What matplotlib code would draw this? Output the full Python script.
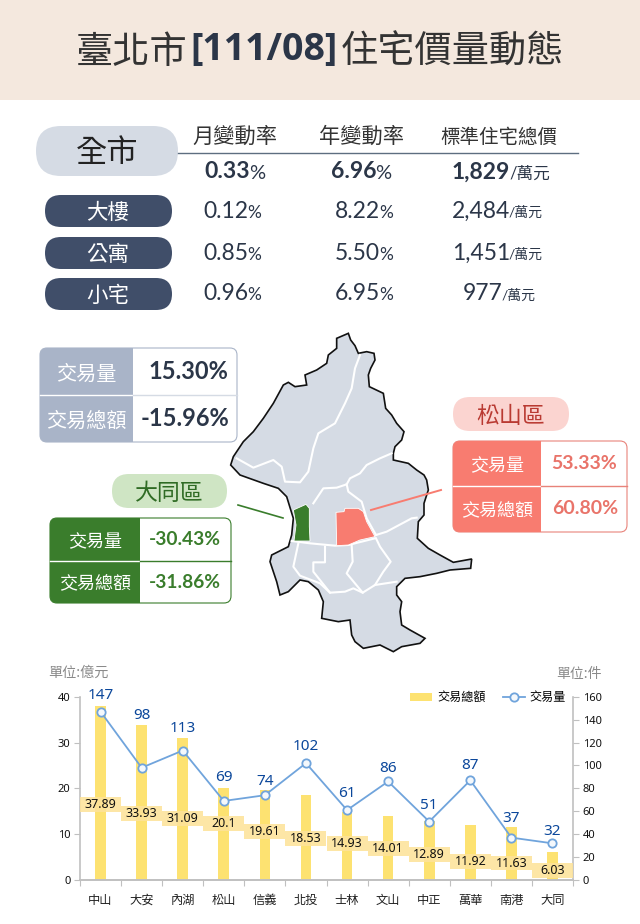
import matplotlib
matplotlib.use("Agg")
import matplotlib.pyplot as plt
from matplotlib.patches import FancyBboxPatch, Polygon, Rectangle

CJK = ['Lato', 'Noto Sans CJK TC', 'DejaVu Sans']
CHART = ['Noto Sans', 'DejaVu Sans']
plt.rcParams['font.family'] = CJK

# Table at the top
col_heads = ["月變動率", "年變動率", "標準住宅總價"]
row_names = ["大樓", "公寓", "小宅"]
city_vals = ["0.33", "6.96", "1,829"]
row_month = ["0.12", "0.85", "0.96"]
row_year = ["8.22", "5.50", "6.95"]
row_price = ["2,484", "1,451", "977"]

# Bottom chart
districts = ["中山", "大安", "內湖", "松山", "信義", "北投", "士林", "文山", "中正", "萬華", "南港", "大同"]
amount = [37.89, 33.93, 31.09, 20.1, 19.61, 18.53, 14.93, 14.01, 12.89, 11.92, 11.63, 6.03]
volume = [147, 98, 113, 69, 74, 102, 61, 86, 51, 87, 37, 32]
# where the amount labels sit on the left axis
label_y = [16.4, 14.6, 13.5, 12.4, 10.5, 9.0, 7.9, 6.8, 5.5, 4.1, 3.7, 2.0]
# gap in pixels between a point and its volume label
volume_gap = [16, 52, 22, 23, 14, 17, 17, 13, 16, 15, 19, 12]

# Map traced in zoom pixels of the reference, see to_px
outline = [(385,25),(392,45),(405,62),(415,85),(440,80),(462,85),(465,105),(452,130),(445,150),(448,185),(490,205),
           (497,250),(515,270),(530,295),(552,320),(545,345),(525,365),(520,385),(520,405),(565,415),(590,435),
           (612,450),(620,465),(625,495),(612,535),(612,570),(595,590),(592,640),(625,670),(660,690),(700,712),
           (755,702),(752,730),(690,735),(650,745),(600,755),(555,760),(530,785),(530,810),(545,830),(540,860),
           (545,900),(570,915),(615,940),(600,955),(545,965),(520,980),(480,960),(430,970),(405,950),(395,930),
           (390,885),(355,890),(305,880),(310,830),(295,795),(265,770),(240,765),(205,800),(180,810),(170,770),
           (150,710),(155,690),(205,665),(215,630),(220,580),(200,515),(175,490),(130,475),(60,450),(32,420),
           (40,395),(70,350),(100,320),(130,280),(160,235),(190,180),(205,172),(225,185),(260,180),(255,150),
           (290,135),(320,115),(325,90),(350,70),(350,40)]
borders = [
    [(50,400),(100,428),(160,405),(185,425),(195,470),(240,472),(265,440),(280,370),(295,325),(345,295),
     (375,235),(395,190),(405,130),(420,90)],
    [(280,535),(310,490),(350,488),(380,478),(390,460),(420,445),(440,420),(480,400),(515,385)],
    [(380,478),(385,500),(425,530),(440,580),(468,630)],
    [(468,630),(500,620),(575,580),(590,578)],
    [(215,648),(270,655),(345,662),(385,660),(465,640)],
    [(468,640),(480,665),(512,710),(490,740),(465,780),(428,803),(380,745),(398,710),(395,660)],
    [(235,655),(220,725),(240,752),(300,775),(330,803),(375,800),(400,790),(428,803)],
    [(315,665),(315,712),(280,712),(280,740),(330,803)],
    [(465,780),(530,770)],
]
datong = [(220,555),(258,538),(268,550),(268,605),(270,648),(222,648),(228,600)]
songshan = [(348,562),(372,560),(375,550),(415,550),(430,560),(440,590),(465,635),(420,645),(385,660),(350,662)]

DARK = "#404e69"
INK = "#2b3648"
GREEN = "#3a7d2c"
SALMON = "#f87c70"
GREY = "#a9b4c8"


def to_px(pts):
    return [(220 + x / 3, 325 + y / 3) for x, y in pts]


def pill(ax, x, y, w, h, r, fc, ec="none", lw=0, z=2):
    p = FancyBboxPatch((x + r, y + r), w - 2 * r, h - 2 * r, boxstyle="round,pad=%f,rounding_size=%f" % (r, r),
                       fc=fc, ec=ec, lw=lw, zorder=z)
    ax.add_patch(p)


def value_text(ax, x, y, val, unit, size, bold=False, unit_size=None, color=INK):
    # number + small unit, the number ends at x
    w = "bold" if bold else "normal"
    ax.text(x, y, val, ha="right", va="center", fontsize=size, color=color, fontweight=w)
    ax.text(x - 1, y + 1.5, unit, ha="left", va="center", fontsize=unit_size, color=color)


def panel(ax, x, y, w, h, split, mid, ec, head_color, labels, vals, val_color, label_size, val_size, div, val_dx):
    # two row box: coloured label column + white value column
    pill(ax, x, y, w, h, 7, "white", ec, 0.8, z=2)
    pill(ax, x, y, split - x, h, 7, head_color, "none", 0, z=3)
    ax.add_patch(Rectangle((split - 10, y), 10, h, fc=head_color, ec="none", zorder=3))
    ax.plot([x, split], [mid, mid], color="#ffffff", lw=1, zorder=4)
    ax.plot([split, x + w], [mid, mid], color=div, lw=1, zorder=4)
    cy = [(y + mid) / 2, (mid + y + h) / 2]
    for i in range(2):
        ax.text((x + split) / 2, cy[i] + 2, labels[i], ha="center", va="center", color="white", fontsize=label_size,
                zorder=5)
        ax.text((split + x + w) / 2 + val_dx[i], cy[i], vals[i], ha="center", va="center", color=val_color,
                fontsize=val_size, fontweight="bold", zorder=5)


fig = plt.figure(figsize=(6.4, 9.24), dpi=100)
bg = fig.add_axes([0, 0, 1, 1])
bg.set_xlim(0, 640)
bg.set_ylim(924, 0)
bg.axis("off")

# Title band, three pieces because the date part is bold
bg.add_patch(Rectangle((0, 0), 640, 100, fc="#f4e8de", ec="none"))
title_font = ['Noto Sans CJK TC', 'DejaVu Sans']
bg.text(76, 52, "臺北市", ha="left", va="center", fontsize=26.8, color="#333333", family=title_font)
bg.text(264, 50, "[111/08]", ha="center", va="center", fontsize=27, color=INK, family=['Open Sans', 'DejaVu Sans'],
        fontweight="bold")
bg.text(341, 52, "住宅價量動態", ha="left", va="center", fontsize=26.8, color="#333333", family=title_font)

# Table
pill(bg, 36, 126, 142, 50, 25, "#d5dbe4")
bg.text(107, 153, "全市", ha="center", va="center", fontsize=22.5, color="#222222")
bg.plot([178, 578], [152.5, 152.5], color="#5d6e80", lw=1)
col_x = [235, 362, 499]
col_size = [15.3, 15.3, 14]
for x, head, s in zip(col_x, col_heads, col_size):
    bg.text(x, 137, head, ha="center", va="center", fontsize=s, color="#333333")

value_text(bg, 250, 172, city_vals[0], "%", 16.5, bold=True, unit_size=14.5)
value_text(bg, 376, 172, city_vals[1], "%", 16.5, bold=True, unit_size=14.5)
value_text(bg, 510, 172, city_vals[2], "/萬元", 16.5, bold=True, unit_size=12)

row_y = [211, 253, 294]
row_unit_x = [510, 510, 503]
for i, y in enumerate(row_y):
    pill(bg, 45, y - 16, 127, 32, 16, DARK)
    bg.text(108, y + 2, row_names[i], ha="center", va="center", fontsize=15.5, color="white")
    value_text(bg, 248, y, row_month[i], "%", 16.5, unit_size=12.5)
    value_text(bg, 380, y, row_year[i], "%", 16.5, unit_size=12.5)
    value_text(bg, row_unit_x[i], y, row_price[i], "/萬元", 16.5, unit_size=10)

# Map
bg.add_patch(Polygon(to_px(outline), closed=True, fc="#d5dbe4", ec="#111111", lw=1.2, zorder=2))
for line in borders:
    xs, ys = zip(*to_px(line))
    bg.plot(xs, ys, color="white", lw=1.5, zorder=3)
bg.add_patch(Polygon(to_px(datong), closed=True, fc=GREEN, ec="white", lw=0.6, zorder=4))
bg.add_patch(Polygon(to_px(songshan), closed=True, fc=SALMON, ec="white", lw=0.6, zorder=4))
bg.plot([238, 283], [505, 518], color=GREEN, lw=1.2, zorder=4)
bg.plot([371, 441], [510, 490], color=SALMON, lw=1.4, zorder=4)

# Whole city panel
panel(bg, 40, 348, 197, 94, 133, 395, "#a9b4c8", GREY, ["交易量", "交易總額"], ["15.30%", "-15.96%"], INK,
      14.5, 17, "#d5dbe4", [3, 0])

# Datong
pill(bg, 112, 474, 115, 34, 17, "#cfe5c4")
bg.text(169, 493, "大同區", ha="center", va="center", fontsize=16.5, color="#2f6b24")
panel(bg, 50, 518, 181, 85, 140, 561, GREEN, GREEN, ["交易量", "交易總額"], ["-30.43%", "-31.86%"], GREEN,
      13, 13.8, GREEN, [-1, -1])

# Songshan
pill(bg, 453, 397, 116, 34, 17, "#fbd4d0")
bg.text(511, 416, "松山區", ha="center", va="center", fontsize=16.5, color="#b93a32")
panel(bg, 453, 441, 174, 91, 541, 486, "#e8837a", SALMON, ["交易量", "交易總額"], ["53.33%", "60.80%"], "#e9746a",
      13, 14, "#e8837a", [0, 1])

# Chart
W, H = 640.0, 924.0
ax = fig.add_axes([80 / W, 1 - 880 / H, (573 - 80) / W, (880 - 696.7) / H])
ax.patch.set_alpha(0)
ax2 = ax.twinx()
pos = list(range(len(districts)))
ax.bar(pos, amount, width=0.26, color="#fde271", zorder=2, label="交易總額")
ax.set_xlim(-0.5, 11.5)
ax.set_ylim(0, 40)
ax.set_yticks([0, 10, 20, 30, 40])
ax.set_xticks([p - 0.5 for p in pos] + [11.5])
ax.set_xticklabels([])
ax.tick_params(axis="x", length=4, color="#c0c0c0", direction="out")
ax.tick_params(axis="y", length=4, color="#c0c0c0", labelsize=8, labelcolor="#111111", pad=3)
for lab in ax.get_yticklabels():
    lab.set_family(CHART)
for p, name in zip(pos, districts):
    ax.text(p, -4.4, name, ha="center", va="center", fontsize=8.8, color="#222222", family=['Noto Sans CJK TC'],
            clip_on=False)
ax.spines["top"].set_visible(False)
ax2.spines["top"].set_visible(False)
for a in (ax, ax2):
    for s in ["left", "right", "bottom"]:
        a.spines[s].set_color("#c0c0c0")
        a.spines[s].set_linewidth(1.2)
ax.spines["right"].set_visible(False)
ax2.spines["left"].set_visible(False)

ax2.plot(pos, volume, color="#70a4dc", lw=1.3, marker="o", ms=6, mfc="#f4f8fc", mec="#70a4dc", mew=1.3, zorder=5,
         label="交易量")
ax2.set_ylim(0, 160)
ax2.set_yticks(range(0, 161, 20))
ax2.tick_params(axis="y", length=4, color="#c0c0c0", labelsize=8, labelcolor="#111111", pad=3)
for lab in ax2.get_yticklabels():
    lab.set_family(CHART)
ax2.patch.set_alpha(0)
ax2.set_zorder(ax.get_zorder() + 1)

for p, v, gap in zip(pos, volume, volume_gap):
    ax2.annotate(str(v), (p, v), xytext=(0, gap * 0.72), textcoords="offset points", ha="center", va="center",
                 fontsize=11, color="#0b479b", family=CHART, zorder=7)
# amount labels: a staircase of boxes one category wide
for p, v, ly in zip(pos, amount, label_y):
    ax2.add_patch(Rectangle((p - 0.5, ly * 4 - 6.5), 1, 13, fc="#fde39a", ec="none", alpha=0.88, zorder=3))
    ax2.text(p, ly * 4, str(v), ha="center", va="center", fontsize=9, color="#111111", family=CHART, zorder=7)

# Legend on the right axes so both series appear
h1, l1 = ax.get_legend_handles_labels()
h2, l2 = ax2.get_legend_handles_labels()
leg = ax2.legend(h1 + h2, l1 + l2, loc="upper right", ncol=2, frameon=False, fontsize=8.7,
                 bbox_to_anchor=(0.986, 1.03), handlelength=1.85, columnspacing=1.4, handletextpad=0.4, borderaxespad=0,
                 borderpad=0)
for t in leg.get_texts():
    t.set_family(['Noto Sans CJK TC'])

bg.text(48, 673, "單位:億元", ha="left", va="center", fontsize=10.2, color="#8a8a8a", family=['Noto Sans CJK TC'])
bg.text(602, 674, "單位:件", ha="right", va="center", fontsize=10, color="#8a8a8a", family=['Noto Sans CJK TC'])

fig.savefig("out.png", dpi=100)
